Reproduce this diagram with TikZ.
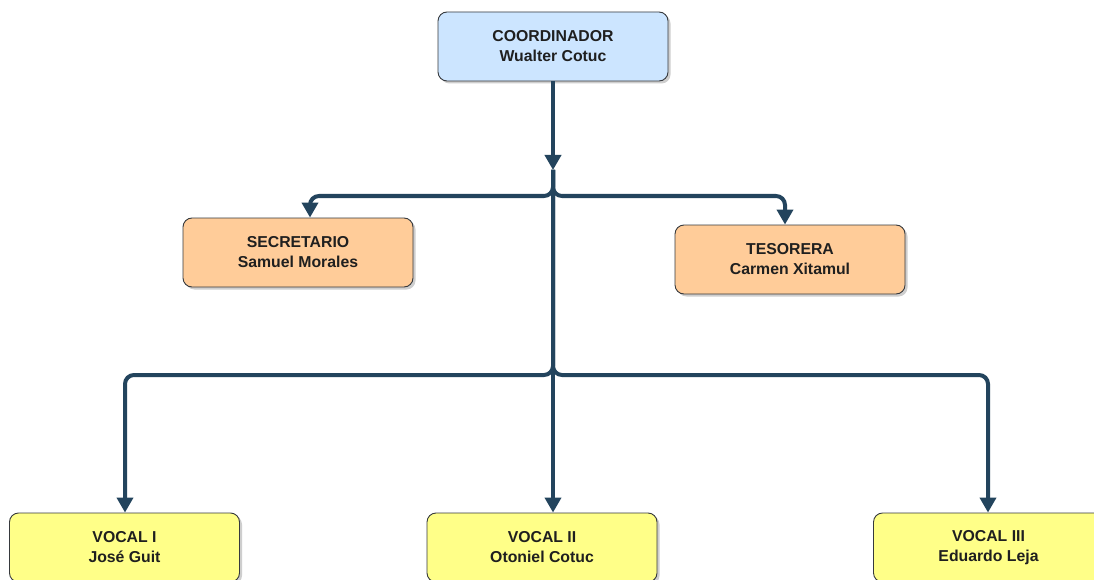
\documentclass[tikz,border=0pt]{standalone}
\usepackage{fontspec}
\setmainfont{Liberation Sans}
\usetikzlibrary{arrows.meta,shadows}
\definecolor{edgeblue}{HTML}{23445D}
\definecolor{boxline}{HTML}{36393D}
\definecolor{bluefill}{HTML}{CCE5FF}
\definecolor{orangefill}{HTML}{FFCC99}
\definecolor{yellowfill}{HTML}{FFFF88}
\begin{document}
\begin{tikzpicture}[x=1pt,y=-1pt,
  card/.style={draw=boxline, line width=0.9pt, rounded corners=9pt,
    minimum width=230pt, minimum height=69pt, inner sep=0pt, align=center,
    font=\fontsize{15.8}{20}\selectfont\bfseries, text=black!88,
    drop shadow={shadow xshift=2.5pt, shadow yshift=-2.5pt, opacity=0.35, fill=black!55}},
  link/.style={draw=edgeblue, line width=4pt, rounded corners=9pt,
    -{Triangle[length=15pt,width=16pt]}}]
\useasboundingbox (0,0) rectangle (1094,580);
\clip (0,0) rectangle (1094,580);
\fill[white] (0,0) rectangle (1094,580);

% boxes
\node[card, fill=bluefill]   (coord) at (553,46.5) {COORDINADOR\\Wualter Cotuc};
\node[card, fill=orangefill] (sec)   at (298,252.5) {SECRETARIO\\Samuel Morales};
\node[card, fill=orangefill] (tes)   at (790,259.5) {TESORERA\\Carmen Xitamul};
\node[card, fill=yellowfill] (voc1)  at (124.5,547.5) {VOCAL I\\José Guit};
\node[card, fill=yellowfill] (voc2)  at (542,547.5) {VOCAL II\\Otoniel Cotuc};
\node[card, fill=yellowfill] (voc3)  at (988.5,547.5) {VOCAL III\\Eduardo Leja};

% routing points
\coordinate (j1) at (553,170);
\coordinate (s1) at (310,196);
\coordinate (t1) at (785,196);
\coordinate (v1) at (125,375);
\coordinate (v3) at (988,375);

% connectors
\draw[link] (coord.south) -- (j1);
\draw[link] (j1) |- (s1) -- (s1 |- sec.north);
\draw[link] (j1) |- (t1) -- (t1 |- tes.north);
\draw[link] (j1) |- (v1) -- (v1 |- voc1.north);
\draw[link] (j1) |- (v3) -- (v3 |- voc3.north);
\draw[link] (j1) -- (j1 |- voc2.north);
\end{tikzpicture}
\end{document}
